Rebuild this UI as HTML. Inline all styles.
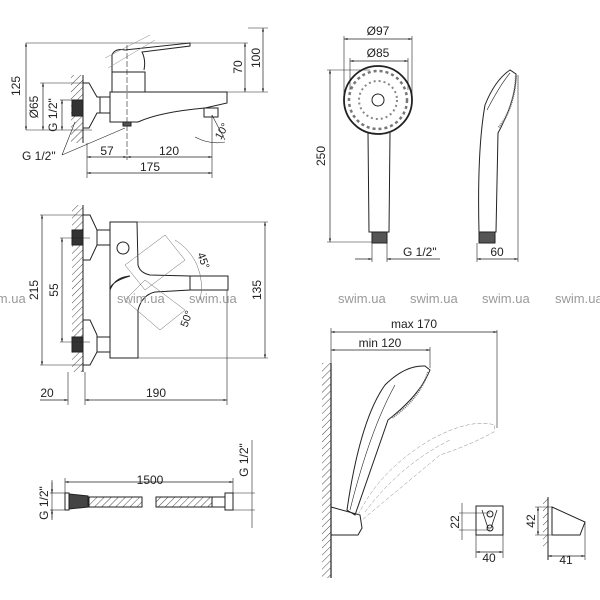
<!DOCTYPE html>
<html><head><meta charset="utf-8"><style>
html,body{margin:0;padding:0;background:#fff}
svg{display:block}
text{font-family:"Liberation Sans",sans-serif;font-size:12px;fill:#222}
.w{fill:#9a9a9a;font-size:13px}
</style></head><body>
<svg width="600" height="600" viewBox="0 0 600 600" xmlns="http://www.w3.org/2000/svg">
<defs>
<marker id="a" viewBox="0 0 10 10" refX="10" refY="5" markerWidth="7" markerHeight="5" orient="auto-start-reverse"><path d="M0,2 L10,5 L0,8z" fill="#222"/></marker>
<pattern id="h" width="5" height="5" patternUnits="userSpaceOnUse" patternTransform="rotate(45)"><line x1="0" y1="0" x2="0" y2="5" stroke="#333" stroke-width="0.9"/></pattern>
</defs>
<g fill="none" stroke="#222" stroke-width="1">
<!-- TOP LEFT MIXER -->
<line x1="26" y1="43" x2="248" y2="43" stroke-width="0.6"/>
<line x1="140" y1="92" x2="268" y2="92" stroke-width="0.6"/>
<line x1="248" y1="28" x2="268" y2="28" stroke-width="0.6"/>
<line x1="245" y1="43" x2="245" y2="92" stroke-width="0.7" marker-start="url(#a)" marker-end="url(#a)"/>
<line x1="263" y1="28" x2="263" y2="92" stroke-width="0.7" marker-start="url(#a)" marker-end="url(#a)"/>
<line x1="26" y1="43" x2="26" y2="130" stroke-width="0.7" marker-start="url(#a)" marker-end="url(#a)"/>
<line x1="26" y1="130" x2="92" y2="130" stroke-width="0.6"/>
<line x1="43" y1="83" x2="43" y2="130" stroke-width="0.7" marker-start="url(#a)" marker-end="url(#a)"/>
<line x1="40" y1="83" x2="88" y2="83" stroke-width="0.6"/>
<line x1="62" y1="100" x2="62" y2="130" stroke-width="0.7" marker-start="url(#a)" marker-end="url(#a)"/>
<line x1="60" y1="100" x2="74" y2="100" stroke-width="0.6"/>
<rect x="71" y="75" width="12" height="68" fill="url(#h)" stroke="none"/>
<rect x="72" y="100" width="11" height="16" fill="#333"/>
<line x1="83" y1="75" x2="83" y2="143"/>
<path d="M83,83 L89,83 L97,97 L100,97 L100,113 L97,113 L89,128 L83,128"/>
<rect x="100" y="97" width="10" height="16"/>
<path d="M110,92 L227,92 L227,103 L205,108 Q160,112 138,122 L110,122 Z"/>
<rect x="204" y="108" width="14" height="9"/>
<path d="M112,92 L112,72 L145,72 L145,92"/>
<path d="M112,72 L112,55 Q115,48 125,50 L190,43 L190,46 L142,52 Q146,60 144,70"/>
<path d="M105,58 L150,35 M108,68 L155,40" stroke-width="0.5" stroke="#888"/>
<line x1="127" y1="45" x2="127" y2="160" stroke-width="0.6" stroke-dasharray="6,2"/>
<rect x="123" y="122" width="8" height="4" fill="#555"/>
<line x1="87" y1="143" x2="87" y2="178" stroke-width="0.6"/>
<line x1="212" y1="115" x2="212" y2="178" stroke-width="0.6"/>
<line x1="87" y1="157" x2="127" y2="157" stroke-width="0.7" marker-start="url(#a)" marker-end="url(#a)"/>
<line x1="127" y1="157" x2="212" y2="157" stroke-width="0.7" marker-start="url(#a)" marker-end="url(#a)"/>
<line x1="87" y1="173" x2="212" y2="173" stroke-width="0.7" marker-start="url(#a)" marker-end="url(#a)"/>
<path d="M62,155 L75,122 M62,155 L125,128" stroke-width="0.6"/>
<path d="M195,137 Q210,145 225,142 M212,115 L225,140" stroke-width="0.6"/>
<!-- MIDDLE LEFT -->
<rect x="72" y="205" width="11" height="167" fill="url(#h)" stroke="none"/>
<line x1="83" y1="205" x2="83" y2="372"/>
<rect x="72" y="230" width="11" height="15" fill="#333"/>
<rect x="72" y="337" width="11" height="15" fill="#333"/>
<path d="M83,215 L90,215 L97,230 L97,245 L90,260 L83,260"/>
<path d="M83,320 L90,320 L97,335 L97,352 L90,365 L83,365"/>
<rect x="97" y="230" width="13" height="15"/><rect x="97" y="337" width="13" height="15"/>
<path d="M110,222 L137,222 L138,265 Q140,273 150,275 L190,276 L190,290 L155,292 Q142,295 138,310 L138,358 L110,358 L110,290 Q115,277 130,276 Q110,282 110,290 Z"/>
<rect x="190" y="276" width="38" height="14"/>
<circle cx="123" cy="248" r="6"/>
<g stroke="#666" stroke-width="0.5"><path d="M125,265 L165,235 L185,260 L145,290 Z M125,300 L160,330 L185,310 L145,280 Z"/><path d="M175,240 A55,55 0 0 1 200,300" /></g>
<line x1="42" y1="215" x2="42" y2="365" stroke-width="0.7" marker-start="url(#a)" marker-end="url(#a)"/>
<line x1="40" y1="215" x2="83" y2="215" stroke-width="0.6"/><line x1="40" y1="365" x2="83" y2="365" stroke-width="0.6"/>
<line x1="62" y1="238" x2="62" y2="342" stroke-width="0.7" marker-start="url(#a)" marker-end="url(#a)"/>
<line x1="60" y1="238" x2="90" y2="238" stroke-width="0.6"/><line x1="60" y1="342" x2="90" y2="342" stroke-width="0.6"/>
<line x1="265" y1="222" x2="265" y2="358" stroke-width="0.7" marker-start="url(#a)" marker-end="url(#a)"/>
<line x1="137" y1="222" x2="268" y2="222" stroke-width="0.6"/><line x1="137" y1="358" x2="268" y2="358" stroke-width="0.6"/>
<line x1="68" y1="372" x2="68" y2="405" stroke-width="0.6"/><line x1="85" y1="372" x2="85" y2="405" stroke-width="0.6"/><line x1="227" y1="290" x2="227" y2="405" stroke-width="0.6"/>
<line x1="40" y1="400" x2="68" y2="400" stroke-width="0.7" marker-end="url(#a)"/>
<line x1="85" y1="400" x2="227" y2="400" stroke-width="0.7" marker-start="url(#a)" marker-end="url(#a)"/>
<!-- SHOWER HEAD FRONT -->
<circle cx="378" cy="100" r="34" stroke-width="1.8"/>
<circle cx="378" cy="100" r="29" stroke="#777" stroke-dasharray="3,3" stroke-width="2.5"/>
<circle cx="378" cy="100" r="19" stroke="#888" stroke-dasharray="2,3" stroke-width="2"/>
<circle cx="378" cy="100" r="6"/>
<path d="M368,133 L369,232 L389,232 L390,133"/>
<rect x="372" y="232" width="15" height="11" fill="#555"/>
<line x1="344" y1="39" x2="412" y2="39" stroke-width="0.7" marker-start="url(#a)" marker-end="url(#a)"/>
<line x1="344" y1="36" x2="344" y2="100" stroke-width="0.6"/><line x1="412" y1="36" x2="412" y2="100" stroke-width="0.6"/>
<line x1="350" y1="61" x2="408" y2="61" stroke-width="0.7" marker-start="url(#a)" marker-end="url(#a)"/>
<line x1="350" y1="58" x2="350" y2="90" stroke-width="0.6"/><line x1="408" y1="58" x2="408" y2="90" stroke-width="0.6"/>
<line x1="330" y1="70" x2="330" y2="242" stroke-width="0.7" marker-start="url(#a)" marker-end="url(#a)"/>
<line x1="327" y1="70" x2="370" y2="70" stroke-width="0.6"/><line x1="327" y1="242" x2="372" y2="242" stroke-width="0.6"/>
<line x1="372" y1="243" x2="372" y2="262" stroke-width="0.6"/><line x1="387" y1="243" x2="387" y2="262" stroke-width="0.6"/>
<line x1="355" y1="259" x2="372" y2="259" stroke-width="0.7" marker-end="url(#a)"/>
<line x1="440" y1="259" x2="387" y2="259" stroke-width="0.7" marker-end="url(#a)"/>
<!-- side -->
<path d="M479,232 Q477,150 485,105 Q495,80 510,70 L516,74 Q516,100 498,133 L496,232 Z"/>
<path d="M487,110 Q500,85 510,73" stroke-width="0.6"/>
<path d="M516,76 Q514,110 498,128" stroke="#777" stroke-width="2" stroke-dasharray="1,1"/>
<rect x="479" y="232" width="16" height="11" fill="#555"/>
<line x1="518" y1="75" x2="518" y2="262" stroke-width="0.6"/><line x1="477" y1="243" x2="477" y2="262" stroke-width="0.6"/>
<line x1="477" y1="259" x2="518" y2="259" stroke-width="0.7" marker-start="url(#a)" marker-end="url(#a)"/>
<!-- HOSE -->
<line x1="52" y1="480" x2="52" y2="518" stroke-width="0.6"/>
<line x1="52" y1="482" x2="52" y2="493" stroke-width="0.7" marker-end="url(#a)"/>
<line x1="52" y1="520" x2="52" y2="510" stroke-width="0.7" marker-end="url(#a)"/>
<line x1="50" y1="493" x2="66" y2="493" stroke-width="0.6"/><line x1="50" y1="510" x2="66" y2="510" stroke-width="0.6"/>
<rect x="65" y="493" width="4" height="17"/>
<path d="M69,494 L88,496 L88,507 L69,509 Z" fill="#444"/>
<rect x="89" y="497" width="53" height="10" fill="url(#h)"/>
<rect x="156" y="497" width="56" height="10" fill="url(#h)"/>
<rect x="212" y="497" width="13" height="10"/>
<rect x="225" y="493" width="8" height="17"/>
<line x1="65" y1="482" x2="233" y2="482" stroke-width="0.7" marker-start="url(#a)" marker-end="url(#a)"/>
<line x1="65" y1="478" x2="65" y2="493" stroke-width="0.6"/><line x1="233" y1="478" x2="233" y2="493" stroke-width="0.6"/>
<line x1="252" y1="440" x2="252" y2="528" stroke-width="0.6"/>
<line x1="233" y1="493" x2="255" y2="493" stroke-width="0.6"/><line x1="233" y1="510" x2="255" y2="510" stroke-width="0.6"/>
<!-- BOTTOM RIGHT -->
<line x1="331" y1="332" x2="497" y2="332" stroke-width="0.7" marker-start="url(#a)" marker-end="url(#a)"/>
<line x1="331" y1="350" x2="430" y2="350" stroke-width="0.7" marker-start="url(#a)" marker-end="url(#a)"/>
<line x1="331" y1="328" x2="331" y2="365" stroke-width="0.6"/>
<line x1="430" y1="347" x2="430" y2="368" stroke-width="0.6"/><line x1="497" y1="330" x2="497" y2="428" stroke-width="0.6"/>
<line x1="331" y1="363" x2="331" y2="578" stroke-width="1.2"/>
<rect x="322" y="363" width="9" height="215" fill="url(#h)" stroke="none"/>
<path d="M331,507 L360,515 L362,528 L358,535 L331,535 Z"/>
<path d="M347,510 Q360,420 385,385 Q405,365 425,366 L430,370 Q420,395 388,420 L355,515 Z"/>
<path d="M350,510 Q370,430 395,385" stroke-width="0.6"/>
<path d="M428,372 Q420,398 392,418" stroke="#777" stroke-width="2" stroke-dasharray="1,1"/>
<g stroke="#888" stroke-width="0.5" stroke-dasharray="4,2"><path d="M358,515 Q380,470 430,440 Q470,418 495,425 L494,432 Q470,445 440,455 L362,520"/><path d="M365,512 Q400,465 450,440"/></g>
<rect x="476" y="506" width="27" height="29"/>
<path d="M482,510 L488,528 L491,528 M497,510 L491,528" stroke-width="0.8"/>
<circle cx="490" cy="514" r="3"/><circle cx="490" cy="528" r="3"/>
<line x1="462" y1="503" x2="462" y2="540" stroke-width="0.6"/>
<line x1="459" y1="513" x2="490" y2="513" stroke-width="0.6"/><line x1="459" y1="530" x2="490" y2="530" stroke-width="0.6"/>
<line x1="476" y1="535" x2="476" y2="558" stroke-width="0.6"/><line x1="503" y1="535" x2="503" y2="558" stroke-width="0.6"/>
<line x1="476" y1="552" x2="503" y2="552" stroke-width="0.7" marker-start="url(#a)" marker-end="url(#a)"/>
<line x1="548" y1="497" x2="548" y2="560" stroke-width="1"/>
<rect x="543" y="497" width="5" height="50" fill="url(#h)" stroke="none"/>
<path d="M552,507 L585,522 L580,535 L552,535 Z"/>
<line x1="538" y1="507" x2="538" y2="535" stroke-width="0.7" marker-start="url(#a)" marker-end="url(#a)"/>
<line x1="535" y1="507" x2="552" y2="507" stroke-width="0.6"/><line x1="535" y1="535" x2="552" y2="535" stroke-width="0.6"/>
<line x1="585" y1="522" x2="585" y2="560" stroke-width="0.6"/>
<line x1="548" y1="556" x2="585" y2="556" stroke-width="0.7" marker-start="url(#a)" marker-end="url(#a)"/>
</g>
<!-- texts -->
<text x="20" y="86" transform="rotate(-90 20 86)" text-anchor="middle">125</text>
<text x="38" y="107" transform="rotate(-90 38 107)" text-anchor="middle">Ø65</text>
<text x="57" y="115" transform="rotate(-90 57 115)" text-anchor="middle">G 1/2"</text>
<text x="242" y="67" transform="rotate(-90 242 67)" text-anchor="middle">70</text>
<text x="260" y="58" transform="rotate(-90 260 58)" text-anchor="middle">100</text>
<text x="107" y="155" text-anchor="middle">57</text>
<text x="169" y="155" text-anchor="middle">120</text>
<text x="150" y="171" text-anchor="middle">175</text>
<text x="22" y="160">G 1/2"</text>
<text x="225" y="133" transform="rotate(-60 225 133)" text-anchor="middle" style="font-size:11px">10°</text>
<text x="38" y="290" transform="rotate(-90 38 290)" text-anchor="middle">215</text>
<text x="58" y="290" transform="rotate(-90 58 290)" text-anchor="middle">55</text>
<text x="261" y="290" transform="rotate(-90 261 290)" text-anchor="middle">135</text>
<text x="200" y="262" transform="rotate(70 200 262)" text-anchor="middle" style="font-size:11px">45°</text>
<text x="190" y="320" transform="rotate(-70 190 320)" text-anchor="middle" style="font-size:11px">50°</text>
<text x="47" y="397" text-anchor="middle">20</text>
<text x="156" y="397" text-anchor="middle">190</text>
<text x="378" y="35" text-anchor="middle">Ø97</text>
<text x="378" y="57" text-anchor="middle">Ø85</text>
<text x="325" y="156" transform="rotate(-90 325 156)" text-anchor="middle">250</text>
<text x="403" y="256">G 1/2"</text>
<text x="497" y="256" text-anchor="middle">60</text>
<text x="150" y="484" text-anchor="middle">1500</text>
<text x="48" y="503" transform="rotate(-90 48 503)" text-anchor="middle">G 1/2"</text>
<text x="248" y="460" transform="rotate(-90 248 460)" text-anchor="middle">G 1/2"</text>
<text x="414" y="328" text-anchor="middle">max 170</text>
<text x="380" y="347" text-anchor="middle">min 120</text>
<text x="459" y="522" transform="rotate(-90 459 522)" text-anchor="middle">22</text>
<text x="489" y="562" text-anchor="middle">40</text>
<text x="535" y="521" transform="rotate(-90 535 521)" text-anchor="middle">42</text>
<text x="566" y="564" text-anchor="middle">41</text>
<text class="w" x="-22" y="303">swim.ua</text>
<text class="w" x="117" y="303">swim.ua</text>
<text class="w" x="189" y="303">swim.ua</text>
<text class="w" x="338" y="303">swim.ua</text>
<text class="w" x="410" y="303">swim.ua</text>
<text class="w" x="482" y="303">swim.ua</text>
<text class="w" x="555" y="303">swim.ua</text>
</svg>
</body></html>
